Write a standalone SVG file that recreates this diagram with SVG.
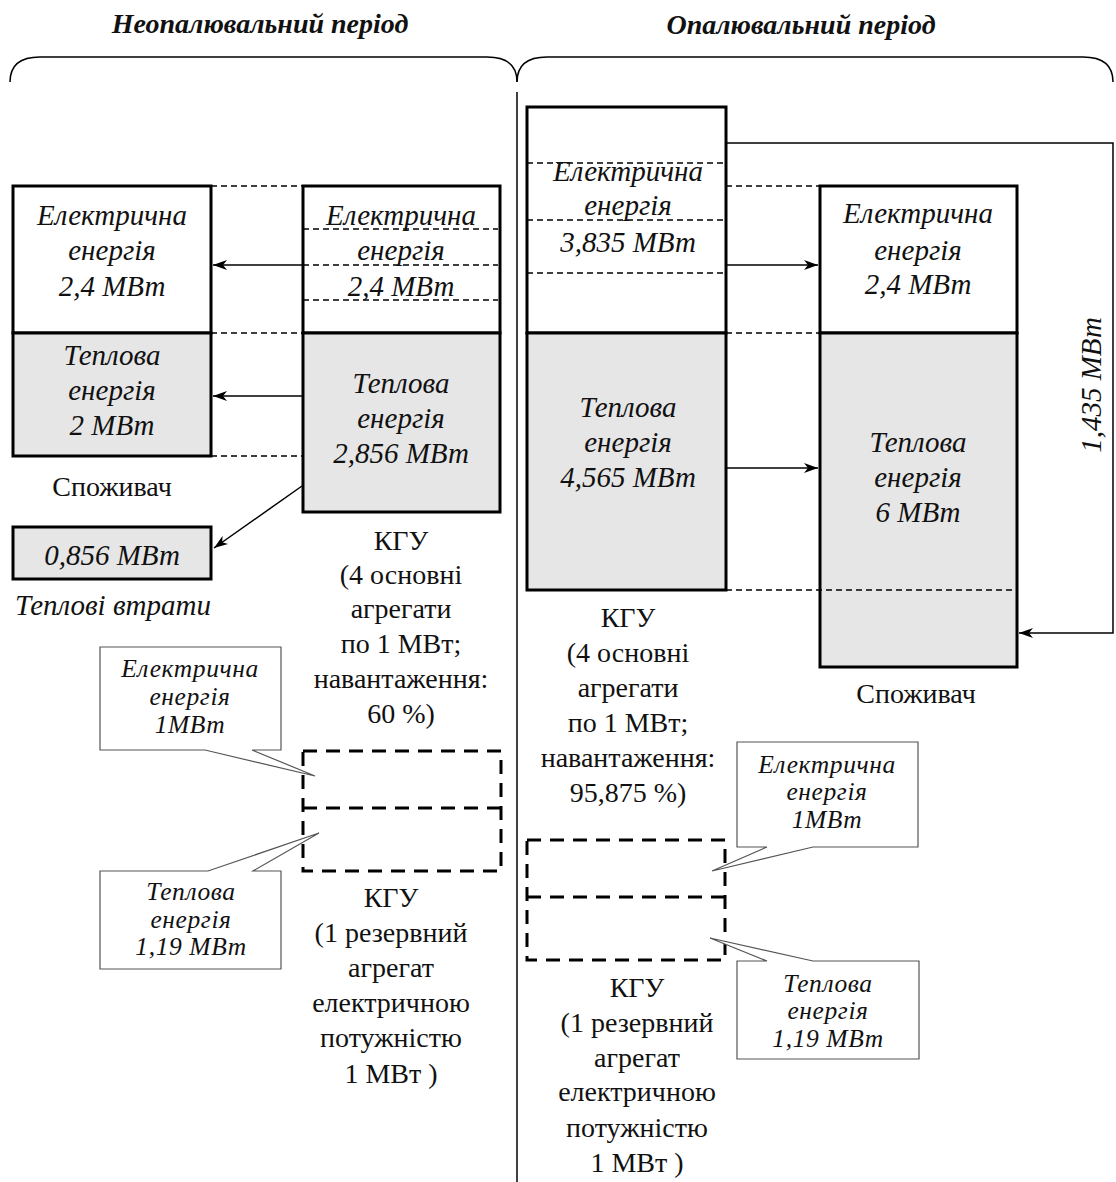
<svg xmlns="http://www.w3.org/2000/svg" width="1116" height="1182" viewBox="0 0 1116 1182">
<defs>
<marker id="ah" viewBox="0 0 14 10" refX="14" refY="5" markerWidth="14" markerHeight="10" markerUnits="userSpaceOnUse" orient="auto">
<path d="M0,0 L14,5 L0,10 L4,5 z" fill="#000"/>
</marker>
</defs>
<style>
.box{stroke:#000;stroke-width:3;fill:#fff}
.gray{fill:#e6e6e6}
.dash{stroke:#000;stroke-width:1.3;stroke-dasharray:6 4;fill:none}
.rdash{stroke:#000;stroke-width:3;stroke-dasharray:14 9;fill:none}
.line{stroke:#000;stroke-width:1.5;fill:none}
.arr{stroke:#000;stroke-width:1.5;fill:none;marker-end:url(#ah)}
.call{stroke:#555;stroke-width:1.2;fill:#fff}
text{font-family:"Liberation Serif","Times New Roman",serif;fill:#111;text-anchor:middle}
.it{font-style:italic;font-size:29px}
.ci{font-style:italic;font-size:25.5px;letter-spacing:0.6px}
.rg{font-size:28px}
.hd{font-style:italic;font-weight:bold;font-size:28px}
</style>
<rect width="1116" height="1182" fill="#fff"/>

<g id="headers">
<text class="hd" x="260" y="33">Неопалювальний період</text>
<text class="hd" x="801" y="34">Опалювальний період</text>
<path class="line" d="M10,82 C10,66 20,57 40,57 L487,57 C507,57 517,66 517,82"/>
<path class="line" d="M517,82 C517,66 527,57 547,57 L1083,57 C1103,57 1113,66 1113,82"/>
<line class="line" x1="517" y1="92" x2="517" y2="1182"/>
</g>

<g id="left-consumer">
<rect class="box" x="13" y="186" width="198" height="147"/>
<rect class="box gray" x="13" y="333" width="198" height="123"/>
<text class="it" x="112" y="225">Електрична</text>
<text class="it" x="112" y="260">енергія</text>
<text class="it" x="112" y="296">2,4 МВт</text>
<text class="it" x="112" y="365">Теплова</text>
<text class="it" x="112" y="400">енергія</text>
<text class="it" x="112" y="435">2 МВт</text>
<text class="rg" x="112" y="496">Споживач</text>
</g>

<g id="left-kgu">
<rect class="box" x="303" y="186" width="197" height="147"/>
<rect class="box gray" x="303" y="333" width="197" height="179"/>
<line class="dash" x1="303" y1="229" x2="498" y2="229"/>
<line class="dash" x1="303" y1="265" x2="498" y2="265"/>
<line class="dash" x1="303" y1="300" x2="498" y2="300"/>
<text class="it" x="401" y="225">Електрична</text>
<text class="it" x="401" y="260">енергія</text>
<text class="it" x="401" y="296">2,4 МВт</text>
<text class="it" x="401" y="393">Теплова</text>
<text class="it" x="401" y="428">енергія</text>
<text class="it" x="401" y="463">2,856 МВт</text>
<text class="rg" x="401" y="550">КГУ</text>
<text class="rg" x="401" y="584">(4 основні</text>
<text class="rg" x="401" y="618">агрегати</text>
<text class="rg" x="401" y="653">по 1 МВт;</text>
<text class="rg" x="401" y="688">навантаження:</text>
<text class="rg" x="401" y="723">60 %)</text>
</g>

<g id="left-losses">
<rect class="box gray" x="13" y="527" width="198" height="52"/>
<text class="it" x="112" y="565">0,856 МВт</text>
<text class="it" x="113" y="615">Теплові втрати</text>
</g>

<g id="left-reserve">
<rect class="rdash" x="303" y="751" width="198" height="120"/>
<line class="rdash" x1="303" y1="808" x2="501" y2="808"/>
<text class="rg" x="391" y="907">КГУ</text>
<text class="rg" x="391" y="942">(1 резервний</text>
<text class="rg" x="391" y="977">агрегат</text>
<text class="rg" x="391" y="1012">електричною</text>
<text class="rg" x="391" y="1047">потужністю</text>
<text class="rg" x="391" y="1083">1 МВт )</text>
</g>

<g id="left-callout-el">
<path class="call" d="M100,647 H281 V750 H252 L315,776 L205,750 H100 Z"/>
<text class="ci" x="190" y="677">Електрична</text>
<text class="ci" x="190" y="705">енергія</text>
<text class="ci" x="190" y="733">1МВт</text>
</g>

<g id="left-callout-heat">
<path class="call" d="M100,871 H208 L319,833 L253,871 H281 V969 H100 Z"/>
<text class="ci" x="191" y="900">Теплова</text>
<text class="ci" x="191" y="928">енергія</text>
<text class="ci" x="191" y="955">1,19 МВт</text>
</g>

<g id="right-kgu">
<rect class="box" x="527" y="107" width="199" height="226"/>
<rect class="box gray" x="527" y="333" width="199" height="257"/>
<line class="dash" x1="527" y1="163" x2="726" y2="163"/>
<line class="dash" x1="527" y1="220" x2="726" y2="220"/>
<line class="dash" x1="527" y1="273" x2="726" y2="273"/>
<text class="it" x="628" y="181">Електрична</text>
<text class="it" x="628" y="215">енергія</text>
<text class="it" x="628" y="252">3,835 МВт</text>
<text class="it" x="628" y="417">Теплова</text>
<text class="it" x="628" y="452">енергія</text>
<text class="it" x="628" y="487">4,565 МВт</text>
<text class="rg" x="628" y="627">КГУ</text>
<text class="rg" x="628" y="662">(4 основні</text>
<text class="rg" x="628" y="697">агрегати</text>
<text class="rg" x="628" y="732">по 1 МВт;</text>
<text class="rg" x="628" y="767">навантаження:</text>
<text class="rg" x="628" y="802">95,875 %)</text>
</g>

<g id="right-consumer">
<rect class="box" x="820" y="186" width="197" height="147"/>
<rect class="box gray" x="820" y="333" width="197" height="334"/>
<text class="it" x="918" y="223">Електрична</text>
<text class="it" x="918" y="260">енергія</text>
<text class="it" x="918" y="294">2,4 МВт</text>
<text class="it" x="918" y="452">Теплова</text>
<text class="it" x="918" y="487">енергія</text>
<text class="it" x="918" y="522">6 МВт</text>
<text class="rg" x="916" y="703">Споживач</text>
</g>

<g id="right-reserve">
<rect class="rdash" x="527" y="840" width="198" height="120"/>
<line class="rdash" x1="527" y1="897" x2="725" y2="897"/>
<text class="rg" x="637" y="997">КГУ</text>
<text class="rg" x="637" y="1032">(1 резервний</text>
<text class="rg" x="637" y="1067">агрегат</text>
<text class="rg" x="637" y="1101">електричною</text>
<text class="rg" x="637" y="1137">потужністю</text>
<text class="rg" x="637" y="1172">1 МВт )</text>
</g>

<g id="right-callout-el">
<path class="call" d="M737,742 H918 V847 H813 L712,871 L767,847 H737 Z"/>
<text class="ci" x="827" y="773">Електрична</text>
<text class="ci" x="827" y="800">енергія</text>
<text class="ci" x="827" y="828">1МВт</text>
</g>

<g id="right-callout-heat">
<path class="call" d="M737,961 H767 L710,938 L813,961 H919 V1059 H737 Z"/>
<text class="ci" x="828" y="992">Теплова</text>
<text class="ci" x="828" y="1019">енергія</text>
<text class="ci" x="828" y="1047">1,19 МВт</text>
</g>

<g id="bypass-label">
<text class="it" transform="translate(1101,385) rotate(-90)" x="0" y="0">1,435 МВт</text>
</g>

<g id="connectors">
<line class="dash" x1="211" y1="186" x2="303" y2="186"/>
<line class="dash" x1="211" y1="333" x2="303" y2="333"/>
<line class="dash" x1="211" y1="456" x2="303" y2="456"/>
<line class="arr" x1="303" y1="265" x2="213" y2="265"/>
<line class="arr" x1="303" y1="396" x2="213" y2="396"/>
<line class="arr" x1="302" y1="486" x2="214" y2="548"/>
<line class="dash" x1="726" y1="186" x2="820" y2="186"/>
<line class="dash" x1="726" y1="333" x2="820" y2="333"/>
<line class="dash" x1="726" y1="590" x2="1016" y2="590"/>
<line class="arr" x1="726" y1="265" x2="818" y2="265"/>
<line class="arr" x1="726" y1="468" x2="818" y2="468"/>
<path class="arr" d="M726,143 H1113 V633 H1019"/>
</g>
</svg>
